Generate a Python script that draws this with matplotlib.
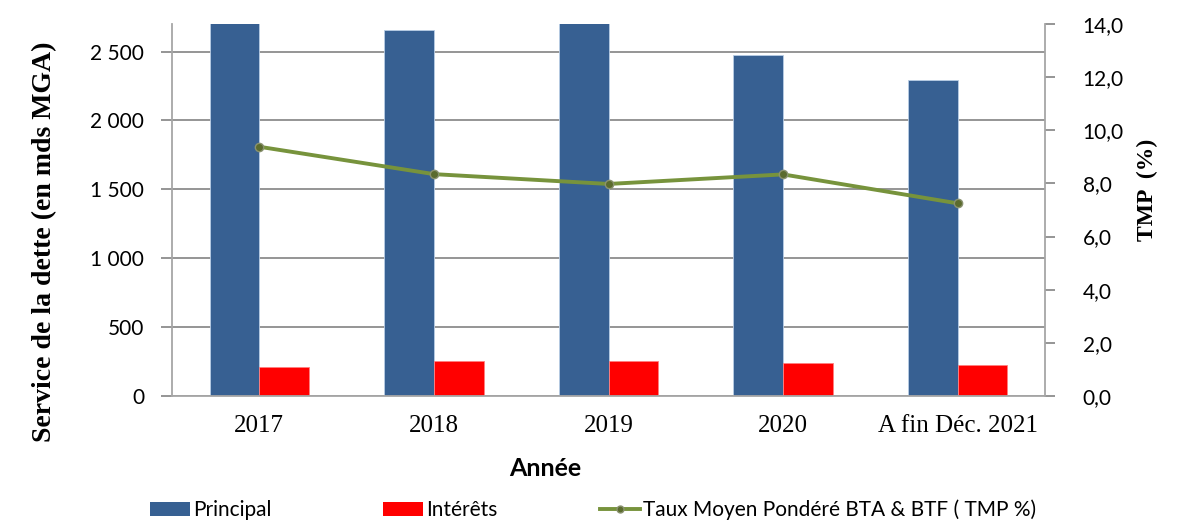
import matplotlib
matplotlib.use("Agg")
import matplotlib.pyplot as plt
import numpy as np
from matplotlib.ticker import FuncFormatter, MultipleLocator
from matplotlib.lines import Line2D
from matplotlib.patches import Patch

# données
annees = ["2017", "2018", "2019", "2020", "A fin Déc. 2021"]
principal = [2780, 2660, 2760, 2475, 2290]
interets = [208, 251, 251, 240, 225]
tmp = [9.38, 8.35, 7.98, 8.34, 7.25]

bleu = "#376092"
rouge = "#FF0000"
vert = "#77933C"
gris = "#8C8C8C"

fig = plt.figure(figsize=(11.92, 5.23), dpi=100)
ax = fig.add_axes([172 / 1192, 1 - 396 / 523, (1045 - 172) / 1192, (396 - 24) / 523])

x = np.arange(len(annees))
w = 0.285
ax.bar(x - w / 2, principal, w, color=bleu, edgecolor="#B9CDE5", linewidth=0.6, zorder=2)
ax.bar(x + w / 2, interets, w, color=rouge, edgecolor="#FF8080", linewidth=0.6, zorder=2)

ax.set_xlim(-0.5, len(annees) - 0.5)
ax.set_ylim(0, 2700)
ax.yaxis.set_major_locator(MultipleLocator(500))
ax.yaxis.set_major_formatter(FuncFormatter(lambda v, p: f"{int(v):,}".replace(",", " ")))
ax.grid(axis="y", color=gris, linewidth=1.3, zorder=0)
ax.set_axisbelow(True)

for s in ["top", "right"]:
    ax.spines[s].set_visible(False)
for s in ["left", "bottom"]:
    ax.spines[s].set_color("#A6A6A6")
    ax.spines[s].set_linewidth(1.3)

ax.set_xticks(x)
ax.set_xticklabels(annees, family="Liberation Serif", fontsize=18)
ax.tick_params(axis="x", length=0, pad=14)
ax.tick_params(axis="y", length=8, color=gris, width=1.3, labelsize=15, pad=12)
for lab in ax.get_yticklabels():
    lab.set_family("Lato")

# axe secondaire TMP
ax2 = ax.twinx()
ax2.plot(x, tmp, color=vert, linewidth=2.8, marker="o", markersize=6,
         markerfacecolor="#5B6B2E", markeredgecolor="#8A9270", zorder=3)
ax2.set_ylim(0, 14)
ax2.yaxis.set_major_locator(MultipleLocator(2))
ax2.yaxis.set_major_formatter(FuncFormatter(lambda v, p: f"{v:.1f}".replace(".", ",")))
for s in ["top", "left", "bottom"]:
    ax2.spines[s].set_visible(False)
ax2.spines["right"].set_color("#A6A6A6")
ax2.spines["right"].set_linewidth(1.3)
ax2.tick_params(axis="y", length=7, color=gris, width=1.3, labelsize=15, pad=20)
for lab in ax2.get_yticklabels():
    lab.set_family("Lato")

# titres des axes
fig.text(45 / 1192, 1 - 242 / 523, "Service de la dette (en mds MGA)", rotation=90,
         ha="center", va="center", family="Liberation Serif", fontweight="bold", fontsize=20)
fig.text(1147 / 1192, 1 - 190 / 523, "TMP  (%)", rotation=90,
         ha="center", va="center", family="Liberation Serif", fontweight="bold", fontsize=17)
fig.text(545 / 1192, 1 - 468 / 523, "Année", ha="center", va="center",
         family="Lato", fontweight="bold", fontsize=18)

# légende
leg_font = {"family": "Lato", "size": 15}
entries = [
    (Patch(facecolor=bleu), "Principal", 150),
    (Patch(facecolor=rouge), "Intérêts", 383),
    (Line2D([], [], color=vert, linewidth=2.8, marker="o", markersize=5,
            markerfacecolor="#5B6B2E", markeredgecolor="#8A9270"),
     "Taux Moyen Pondéré BTA & BTF ( TMP %)", 600),
]
for h, lbl, px in entries:
    fig.legend([h], [lbl], loc="center left", bbox_to_anchor=(px / 1192, 1 - 510 / 523),
               frameon=False, prop=leg_font, handlelength=1.9, handleheight=0.65,
               handletextpad=0.15, borderpad=0, borderaxespad=0)

fig.savefig("out.png", dpi=100)
